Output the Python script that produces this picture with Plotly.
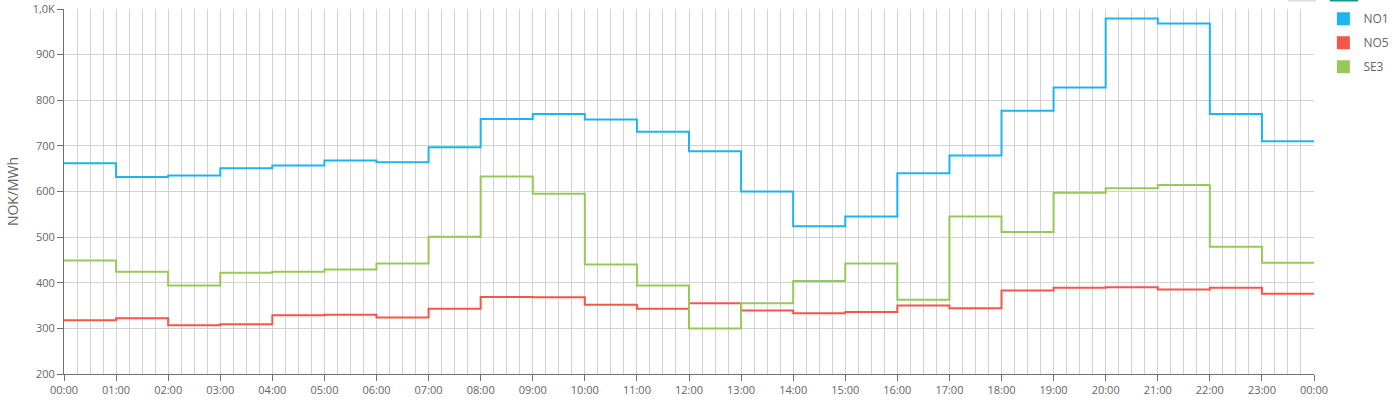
import plotly.graph_objects as go
import pandas as pd

hours = pd.date_range("2024-01-01 00:00", periods=25, freq="h")

no1 = [662, 632, 635, 651, 657, 668, 664, 697, 759, 770, 758, 731,
       688, 600, 524, 545, 640, 679, 777, 828, 979, 968, 770, 710]
no5 = [318, 322, 307, 309, 329, 330, 324, 343, 369, 368, 352, 343,
       355, 339, 333, 336, 350, 344, 383, 389, 390, 385, 389, 376]
se3 = [449, 424, 394, 422, 424, 429, 442, 501, 633, 595, 440, 394,
       300, 355, 404, 442, 363, 545, 511, 597, 607, 614, 479, 444]

series = [("NO1", no1, "#1eb4f2"), ("NO5", no5, "#f5564a"), ("SE3", se3, "#96c95a")]

y_tickvals = [200, 300, 400, 500, 600, 700, 800, 900, 1000]
y_ticktext = ["200", "300", "400", "500", "600", "700", "800", "900", "1,0K"]

fig = go.Figure()
for name, vals, color in series:
    fig.add_trace(go.Scatter(
        x=hours, y=vals + [vals[-1]], mode="lines", line_shape="hv",
        line=dict(color=color, width=2), name=name, showlegend=False,
        legendgroup=name))
for name, vals, color in series:
    fig.add_trace(go.Scatter(
        x=[None], y=[None], mode="markers",
        marker=dict(symbol="square", size=13, color=color),
        name=name, showlegend=True, legendgroup=name))

grid = "#d2d2d2"
axcol = "#707070"
font = dict(family="Open Sans, DejaVu Sans, sans-serif", size=11, color="#666666")

fig.update_layout(
    width=1400, height=400,
    margin=dict(l=64, r=86, t=9, b=26, autoexpand=False),
    paper_bgcolor="white", plot_bgcolor="white",
    font=font,
    legend=dict(x=1.0075, xanchor="left", y=1.013, yanchor="top",
                font=dict(size=12, color="#666666"),
                traceorder="grouped", tracegroupgap=5,
                bgcolor="rgba(0,0,0,0)"),
    xaxis=dict(
        type="date", automargin=False,
        range=[hours[0], hours[-1]],
        dtick=3600000, tickformat="%H:%M",
        showgrid=True, gridcolor=grid, gridwidth=1,
        minor=dict(dtick=900000, showgrid=True, gridcolor=grid, gridwidth=1),
        showline=True, linecolor=axcol, linewidth=1,
        ticks="outside", ticklen=6, tickcolor=axcol,
        zeroline=False, tickfont=font,
    ),
    yaxis=dict(
        range=[200, 1000], automargin=False,
        tickvals=y_tickvals, ticktext=y_ticktext,
        showgrid=True, gridcolor=grid, gridwidth=1,
        showline=True, linecolor=axcol, linewidth=1,
        ticks="outside", ticklen=6, tickcolor=axcol,
        zeroline=False, tickfont=font,
        title=dict(text="NOK/MWh", font=dict(size=14, color="#666666"), standoff=10),
    ),
    shapes=[
        dict(type="rect", xref="paper", yref="paper",
             x0=(1288 - 64) / 1250, x1=(1316 - 64) / 1250,
             y0=(374 - 1.5) / 365, y1=(374 + 1) / 365,
             line=dict(width=0), fillcolor="#dcdcdc"),
        dict(type="rect", xref="paper", yref="paper",
             x0=(1330 - 64) / 1250, x1=(1358 - 64) / 1250,
             y0=(374 - 1.5) / 365, y1=(374 + 1) / 365,
             line=dict(width=0), fillcolor="#17978a"),
    ],
)

fig.write_html("out.html", config={"displayModeBar": False},
               post_script="document.body.style.margin='0';document.body.style.overflow='hidden';")
